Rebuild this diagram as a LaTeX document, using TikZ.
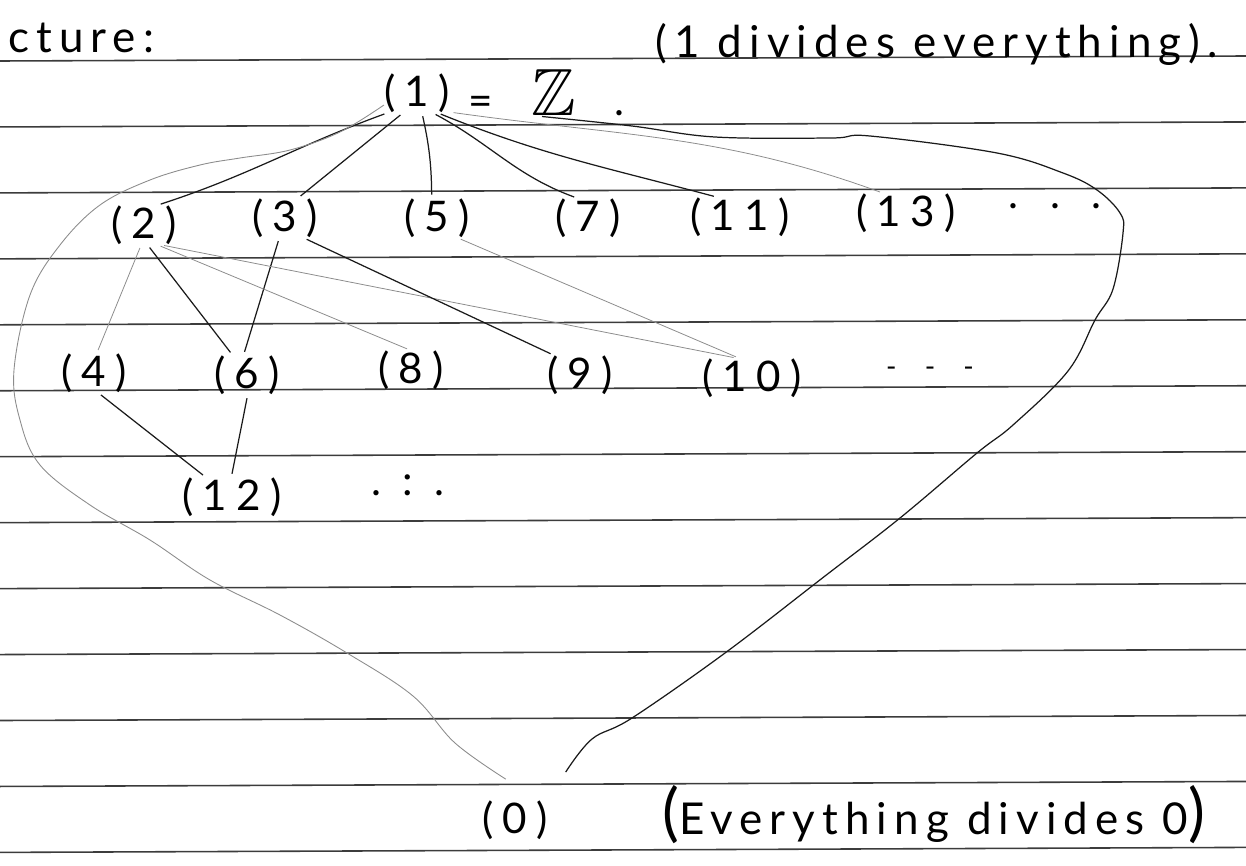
\documentclass[tikz,border=0pt]{standalone}
\usepackage{fontspec}
\usepackage{amssymb}
\setmainfont{Lato}
\newfontfamily\handfont[LetterSpace=22]{Lato}
\newfontfamily\notefont[LetterSpace=16]{Lato}
\usetikzlibrary{positioning}
\definecolor{pencil}{HTML}{1A1A1A}
\definecolor{faint}{HTML}{8C8C8C}
\definecolor{ruling}{HTML}{3C3C3C}

\begin{document}
\begin{tikzpicture}[x=0.02cm,y=-0.02cm,
  num/.style={font=\handfont\fontsize{24}{28}\selectfont,inner sep=0pt},
  note/.style={font=\notefont\fontsize{25}{30}\selectfont,inner sep=0pt},
  rule/.style={draw=ruling,line width=0.9pt},
  ln/.style={draw=pencil,line width=0.7pt,shorten <=2pt,shorten >=2pt},
  lnf/.style={draw=faint,line width=0.45pt,shorten <=2pt,shorten >=2pt},
  hull/.style={draw=pencil,line width=0.7pt},
  hullf/.style={draw=faint,line width=0.5pt}]

\useasboundingbox (0,0) rectangle (1246,865);

% ------------------------------- paper ------------------------------------
\foreach \i in {0,...,12}
  \draw[rule] (0,{61+65.95*\i}) -- (1246,{56+65.95*\i});

% ------------------------------- text -------------------------------------
\node[note,anchor=base west] (ttl) at (8,53) {cture:};
\node[note,anchor=base west] (top) at (655,58) {(1 divides everything).};
\node[num] (n1) at (417,93) {(1)};
\node[num,right=10pt of n1] (zeq)
  {=\hspace{22pt}{\fontsize{38}{38}\selectfont$\mathbb{Z}$}\hspace{22pt}.};

% units
\node[num] (n2)  at (144,225) {(2)};
\node[num] (n3)  at (285,218) {(3)};
\node[num] (n5)  at (437,218) {(5)};
\node[num] (n7)  at (588,218) {(7)};
\node[num] (n11) at (740,217) {(11)};
\node[num] (n13) at (906,213) {(13)};
\node[num] (dd1) at (1055,206) {.\hspace{18pt}.\hspace{18pt}.};

% next row
\node[num] (n4)  at (94,373)  {(4)};
\node[num] (n6)  at (247,375) {(6)};
\node[num] (n8)  at (411,370) {(8)};
\node[num] (n9)  at (580,375) {(9)};
\node[num] (n10) at (752,378) {(10)};
\node[num,font=\handfont\fontsize{16}{18}\selectfont] (dd2) at (930,372)
  {-\hspace{16pt}-\hspace{16pt}-};

\node[num] (n12) at (232,497) {(12)};
\node[num] (dd3) at (408,485) {.\hspace{12pt}:\hspace{12pt}.};

% zero
\node[num] (n0) at (515,820) {(0)};
\node[note,anchor=base west] (bot) at (662,834)
  {{\fontsize{36}{36}\selectfont(}Everything divides 0{\fontsize{36}{36}\selectfont)}};

% ------------------------------ (1) to primes -----------------------------
\draw[ln] (n1.-146) to[out=-160,in=18] (n2.56);
\draw[ln] (n1.-125) -- (n3.57);
\draw[ln] (n1.-76) to[bend left=6] (n5.105);
\draw[ln] (n1.-52) to[out=-28,in=160] (n7.118);
\draw[ln] (n1.-44) to[out=-22,in=165] (n11.139);
\draw[lnf] (n1.-30) to[out=-8,in=160] (n13.139);

% ------------------------------ second layer ------------------------------
\draw[lnf] (n2.-98) -- (n4.82);
\draw[ln]  (n2.-80) -- (n6.126);
\draw[ln]  (n3.-106) -- (n6.100);
\draw[lnf] (n2.-56) -- (n8.92);
\draw[lnf] (n2.-50) -- (n10.127);
\draw[ln]  (n3.-47) -- (n9.143);
\draw[lnf] (n5.-44) -- (n10.123);
\draw[ln]  (n4.-78) -- (n12.143);
\draw[ln]  (n6.-88) -- (n12.92);

% ------------------------ everything down to (0) --------------------------
\draw[hullf] plot[smooth,tension=0.6] coordinates {(n1.200) (340,132) (290,150)
  (240,158) (200,165) (150,180) (100,205) (60,245) (30,295) (14,370) (20,420)
  (40,465) (90,505) (150,540) (210,580) (280,615) (347,653) (413,696) (455,743)
  ([yshift=12pt]n0.115)};
\draw[hull] plot[smooth,tension=0.6] coordinates {(zeq.-100) (632,126) (715,137)
  (831,138) (870,136) (997,153) (1063,173) (1097,190) (1120,213) (1123,233)
  (1113,289) (1095,320) (1068,371) (1013,425) (977,453) (900,518) (825,576)
  (725,653) (632,718) (592,739) ([shift={(10pt,16pt)}]n0.north east)};
\end{tikzpicture}
\end{document}
